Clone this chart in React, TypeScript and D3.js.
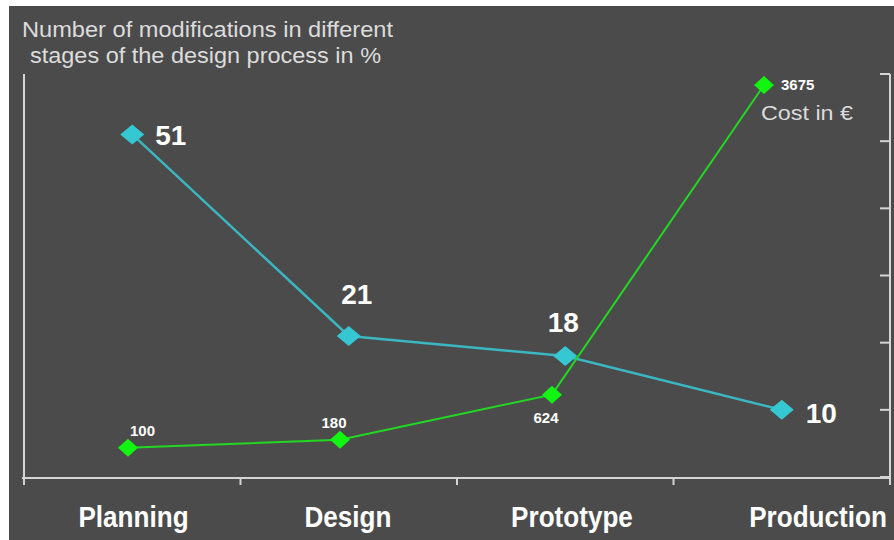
import React from "react";
import * as d3 from "d3";

const categories = ["Planning", "Design", "Prototype", "Production"];
const modificationsPct = [51, 21, 18, 10];
const costEuro = [100, 180, 624, 3675];
const pctTicks = [0, 10, 20, 30, 40, 50, 60];
const titleLines = ["Number of modifications in different", "stages of the design process in %"];
const costLabel = "Cost in €";

const W = 894;
const H = 540;
const BG = "#4b4b4b";
const AXIS = "#d4d4d4";
const CYAN_LINE = "#3bb7c2";
const CYAN_MARK = "#35c8d3";
const GREEN_LINE = "#22d822";
const GREEN_MARK = "#11f511";
const FONT = "'Liberation Sans', Arial, sans-serif";

const diamond = (cx: number, cy: number, hw: number, hh: number) =>
  `M${cx},${cy - hh}L${cx + hw},${cy}L${cx},${cy + hh}L${cx - hw},${cy}Z`;

export default function App() {
  const xBand = d3.scaleBand<string>().domain(categories).range([24, 890]);
  const xPct = (c: string) => (xBand(c) as number) + xBand.bandwidth() / 2;
  const yPct = d3.scaleLinear().domain([0, 60]).range([477, 74]);
  const xCost = d3.scalePoint<string>().domain(categories).range([128, 764]);
  const yCost = d3.scaleLinear().domain([0, 4000]).range([458, 52]);

  const pctLine = d3
    .line<number>()
    .x((_, i) => xPct(categories[i]))
    .y((d) => yPct(d));
  const costLine = d3
    .line<number>()
    .x((_, i) => xCost(categories[i]) as number)
    .y((d) => yCost(d));

  const bandEdges = categories.map((c) => xBand(c) as number).concat([xBand.range()[1]]);

  const catLabelX = [133.5, 348, 572, 818];

  const pctLabelPos = [
    { dx: 23, dy: 11, anchor: "start" },
    { dx: 8, dy: -32, anchor: "middle" },
    { dx: -2, dy: -24, anchor: "middle" },
    { dx: 24, dy: 13, anchor: "start" },
  ];
  const costLabelPos = [
    { dx: 2, dy: -12, anchor: "start" },
    { dx: -6, dy: -12, anchor: "middle" },
    { dx: -6, dy: 28, anchor: "middle" },
    { dx: 17, dy: 5, anchor: "start" },
  ];

  return (
    <svg
      width={W}
      height={H}
      style={{ position: "absolute", left: 0, top: 0, display: "block" }}
      fontFamily={FONT}
    >
      <rect x={0} y={0} width={W} height={H} fill="#ffffff" />
      <rect x={9} y={6} width={W - 9} height={H - 6} fill={BG} />

      {/* title */}
      <text x={22} y={37} fill="#dcdcdc" fontSize={22} textLength={371} lengthAdjust="spacingAndGlyphs">
        {titleLines[0]}
      </text>
      <text x={30} y={63} fill="#dcdcdc" fontSize={22} textLength={351} lengthAdjust="spacingAndGlyphs">
        {titleLines[1]}
      </text>

      {/* axes */}
      <g stroke={AXIS} strokeWidth={2} fill="none">
        <line x1={24} x2={24} y1={74} y2={484} />
        <line x1={890} x2={890} y1={74} y2={484} />
        <line x1={22} x2={890} y1={478} y2={478} />
        {bandEdges.map((x, i) => (
          <line key={"bt" + i} x1={x} x2={x} y1={478} y2={485} />
        ))}
        {pctTicks.map((t) => (
          <line key={"rt" + t} x1={880} x2={890} y1={yPct(t)} y2={yPct(t)} />
        ))}
      </g>

      {/* category labels */}
      {categories.map((c, i) => (
        <text
          key={c}
          transform={`translate(${catLabelX[i]},527) scale(0.9,1)`}
          fill="#ffffff"
          fontSize={29}
          fontWeight="bold"
          textAnchor="middle"
        >
          {c}
        </text>
      ))}

      {/* percent series */}
      <path d={pctLine(modificationsPct) as string} stroke={CYAN_LINE} strokeWidth={2.5} fill="none" />
      {modificationsPct.map((v, i) => {
        const cx = xPct(categories[i]);
        const cy = yPct(v);
        return (
          <g key={"p" + i}>
            <path d={diamond(cx, cy, 12, 10)} fill={CYAN_MARK} />
            <text
              x={cx + pctLabelPos[i].dx}
              y={cy + pctLabelPos[i].dy}
              fill="#ffffff"
              fontSize={28}
              fontWeight="bold"
              textAnchor={pctLabelPos[i].anchor}
            >
              {v}
            </text>
          </g>
        );
      })}

      {/* cost series */}
      <path d={costLine(costEuro) as string} stroke={GREEN_LINE} strokeWidth={2} fill="none" />
      {costEuro.map((v, i) => {
        const cx = xCost(categories[i]) as number;
        const cy = yCost(v);
        return (
          <g key={"c" + i}>
            <path d={diamond(cx, cy, 10, 9)} fill={GREEN_MARK} />
            <text
              x={cx + costLabelPos[i].dx}
              y={cy + costLabelPos[i].dy}
              fill="#ffffff"
              fontSize={15}
              fontWeight="bold"
              textAnchor={costLabelPos[i].anchor}
            >
              {v}
            </text>
          </g>
        );
      })}
      <text x={761} y={120} fill="#dcdcdc" fontSize={20} textLength={92} lengthAdjust="spacingAndGlyphs">
        {costLabel}
      </text>
    </svg>
  );
}
